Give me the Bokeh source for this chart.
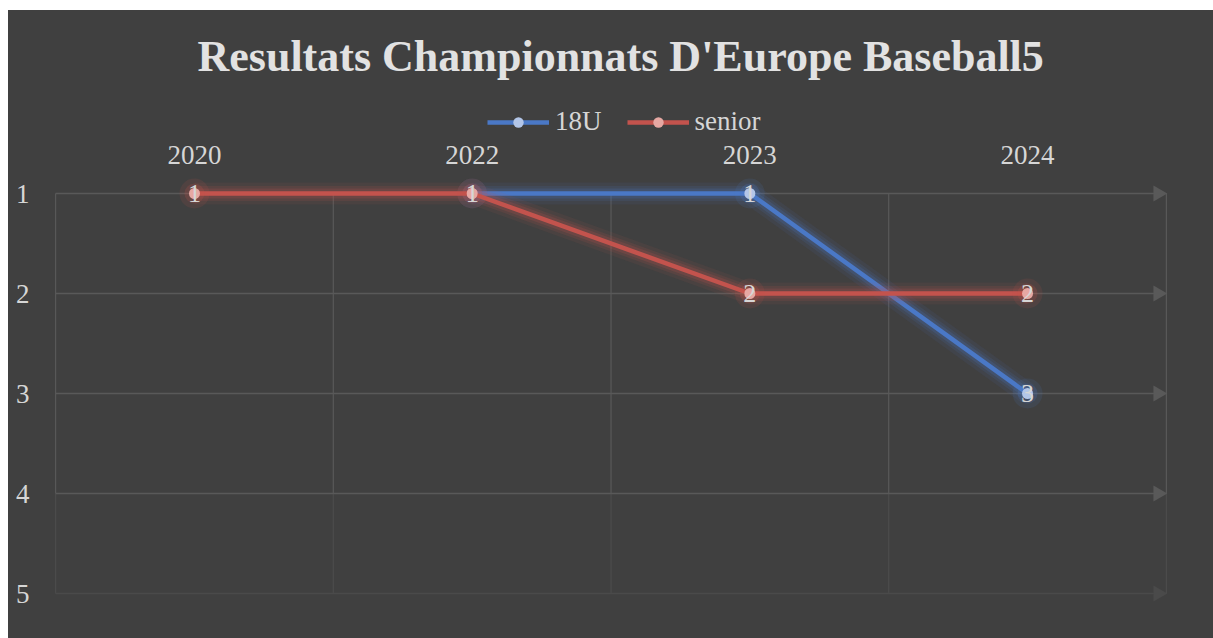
import numpy as np
from bokeh.plotting import figure
from bokeh.models import FactorRange, Range1d, Legend, LegendItem, FixedTicker
from bokeh.core.properties import value
from bokeh.embed import file_html
from bokeh.resources import INLINE

# ---- data ----
years = ["2020", "2022", "2023", "2024"]
u18 = [np.nan, 1, 1, 3]
senior = [1, 1, 2, 2]
ranks = [1, 2, 3, 4, 5]

FONT = "Liberation Serif"
BG = "#404040"
BLUE = "#4a78c6"
RED = "#c3534d"
BLUE_M = "#b3c6e8"
RED_M = "#e6a8a3"
TXT = "#d6d6d6"
GRID = "#595959"

p = figure(
    x_range=FactorRange(factors=years, range_padding=0.04, range_padding_units="absolute"),
    y_range=Range1d(5.1, 0.05),
    width=1205, height=628, margin=(10, 0, 0, 8),
    output_backend="svg", toolbar_location=None,
    x_axis_location="above",
    background_fill_color=BG, border_fill_color=BG,
    outline_line_color=None, outline_line_alpha=0,
    min_border_left=36, min_border_right=36, min_border_bottom=35, min_border_top=88,
)
p.styles = {"background-color": BG}

p.title.text = "Resultats Championnats D'Europe Baseball5"
p.title.align = "left"
p.title.offset = 153
p.title.standoff = 36
p.title.text_font = FONT
p.title.text_font_size = "44px"
p.title.text_font_style = "bold"
p.title.text_color = "#e2e2e2"

p.xgrid.grid_line_color = None
p.ygrid.grid_line_color = None

# axes
for ax in (p.xaxis[0], p.yaxis[0]):
    ax.axis_line_color = None
    ax.major_tick_line_color = None
    ax.minor_tick_line_color = None
    ax.major_tick_out = 0
    ax.major_tick_in = 0
    ax.major_label_text_color = TXT
    ax.major_label_text_font = FONT
    ax.major_label_text_font_size = "27px"
p.xaxis[0].major_label_standoff = -65
p.yaxis[0].ticker = FixedTicker(ticks=ranks)
p.yaxis[0].major_label_standoff = 15

# custom grid: category boundaries & horizontal lines with arrowheads
n = len(years)
bounds = list(range(n + 1))
p.segment(x0=bounds, x1=bounds, y0=[ranks[0]] * len(bounds), y1=[ranks[-2]] * len(bounds),
          line_color=GRID, line_width=1.2)
p.segment(x0=bounds, x1=bounds, y0=[ranks[-2]] * len(bounds), y1=[ranks[-1]] * len(bounds),
          line_color="#4c4c4c", line_width=1.2)
hcol = [GRID, GRID, GRID, GRID, "#4a4a4a"]
p.segment(x0=[0] * len(ranks), x1=[n - 0.03] * len(ranks), y0=ranks, y1=ranks,
          line_color=hcol, line_width=1.5)
p.scatter(x=[n - 0.03] * len(ranks), y=ranks, marker="triangle", angle=-np.pi / 2,
          size=16, fill_color=hcol, line_color=None)

def series(vals, color, mcolor):
    xs = list(years)
    for w, a in ((22, 0.08), (15, 0.12), (10, 0.18)):
        p.line(xs, vals, line_color=color, line_width=w, line_alpha=a, line_join="round")
    ln = p.line(xs, vals, line_color=color, line_width=4.5, line_join="round")
    px = [y for y, v in zip(years, vals) if not np.isnan(v)]
    pv = [v for v in vals if not np.isnan(v)]
    p.scatter(px, pv, size=30, fill_color=color, fill_alpha=0.12, line_color=None)
    p.scatter(px, pv, size=20, fill_color=color, fill_alpha=0.2, line_color=None)
    mk = p.scatter(px, pv, size=11, fill_color=mcolor, line_color=None)
    p.text(px, pv, text=[str(int(v)) for v in pv], text_align="center", text_baseline="middle",
           text_color=TXT, text_font=value(FONT), text_font_size="26px")
    return ln, mk

b_ln, b_mk = series(u18, BLUE, BLUE_M)
r_ln, r_mk = series(senior, RED, RED_M)

legend = Legend(
    items=[LegendItem(label="18U", renderers=[b_ln, b_mk]),
           LegendItem(label="senior", renderers=[r_ln, r_mk])],
    orientation="horizontal", location=(443, 466),
    background_fill_alpha=0, border_line_color=None,
    label_text_color=TXT, label_text_font=FONT, label_text_font_size="27px",
    glyph_width=62, glyph_height=26, label_height=26, spacing=25, label_standoff=6,
    padding=0, margin=0,
)
p.add_layout(legend, "center")

open("out.html", "w").write(file_html(p, INLINE))
